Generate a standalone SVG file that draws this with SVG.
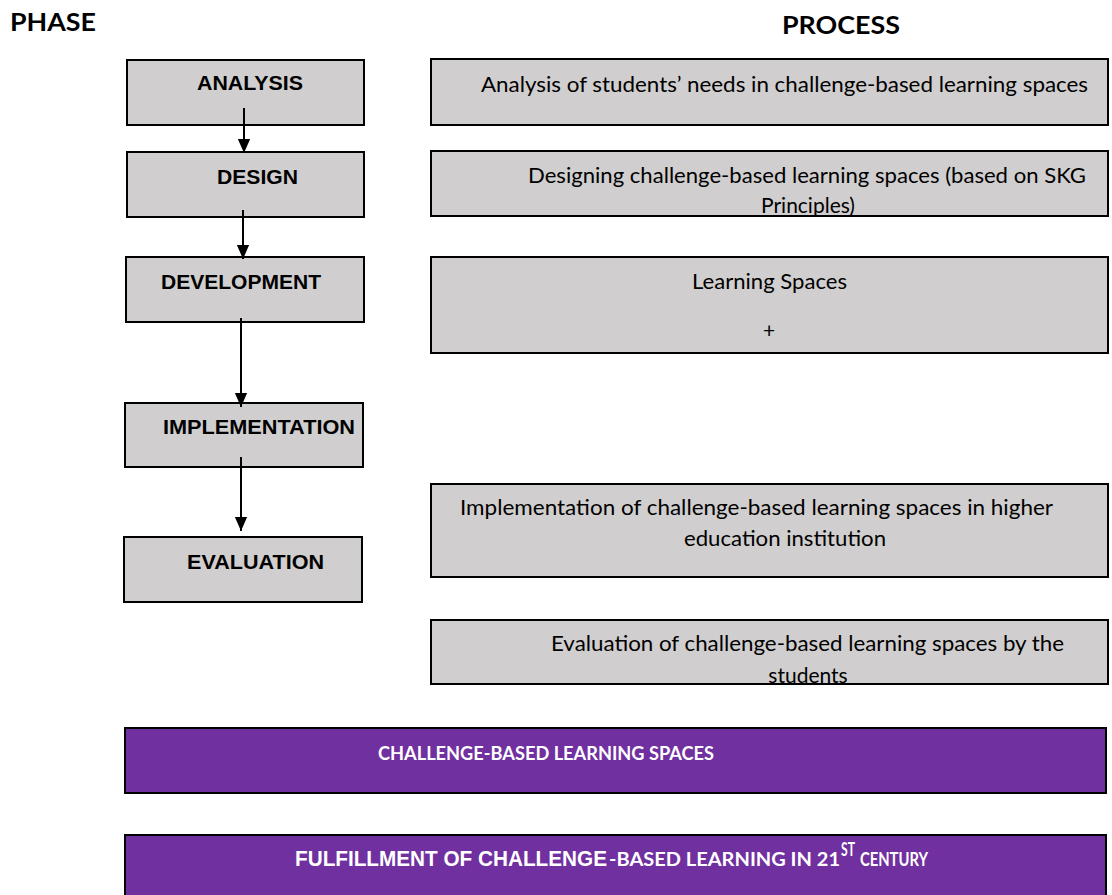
<svg xmlns="http://www.w3.org/2000/svg" width="1112" height="895" viewBox="0 0 1112 895">
<style>
.box{fill:#D0CECE;stroke:#000;stroke-width:2}
.pbox{fill:#7030A0;stroke:#000;stroke-width:2}
.ph{font-family:"Liberation Sans",Arial,sans-serif;font-weight:bold;font-size:20px;fill:#000}
.pr{font-family:Lato,"Open Sans",sans-serif;font-size:21px;fill:#000}
.hd{font-family:Lato,"Open Sans",sans-serif;font-weight:bold;font-size:25px;fill:#000}
.wt{font-family:Lato,"Open Sans",sans-serif;font-weight:bold;font-size:18px;fill:#fff}
.wa{font-family:"Liberation Sans",Arial,sans-serif;font-weight:bold;font-size:22px;fill:#fff}
.conn{stroke:#000;stroke-width:2;fill:none;marker-end:url(#ah)}
</style>
<defs>
<marker id="ah" markerWidth="14" markerHeight="16" refX="16" refY="7" orient="auto" markerUnits="userSpaceOnUse" viewBox="0 0 16 14">
<path d="M0,0 L16,7 L0,14 z" fill="#000"/>
</marker>
</defs>
<rect width="1112" height="895" fill="#fff"/>
<text class="hd" x="10" y="31" textLength="86" lengthAdjust="spacingAndGlyphs">PHASE</text>
<text class="hd" x="782" y="34" textLength="118" lengthAdjust="spacingAndGlyphs">PROCESS</text>

<g id="analysis"><rect class="box" x="127" y="60" width="237" height="65"/><text class="ph" x="197" y="90" textLength="106" lengthAdjust="spacingAndGlyphs">ANALYSIS</text></g>
<g id="design"><rect class="box" x="127" y="152" width="237" height="65"/><text class="ph" x="217" y="184" textLength="81" lengthAdjust="spacingAndGlyphs">DESIGN</text></g>
<g id="development"><rect class="box" x="126" y="257" width="238" height="65"/><text class="ph" x="161" y="289" textLength="160" lengthAdjust="spacingAndGlyphs">DEVELOPMENT</text></g>
<g id="implementation"><rect class="box" x="125" y="403" width="238" height="64"/><text class="ph" x="163" y="434" textLength="192" lengthAdjust="spacingAndGlyphs">IMPLEMENTATION</text></g>
<g id="evaluation"><rect class="box" x="124" y="537" width="238" height="65"/><text class="ph" x="187" y="569" textLength="137" lengthAdjust="spacingAndGlyphs">EVALUATION</text></g>

<g id="p-analysis"><rect class="box" x="431" y="59" width="677" height="66"/><text class="pr" x="481" y="92" textLength="607" lengthAdjust="spacingAndGlyphs">Analysis of students’ needs in challenge-based learning spaces</text></g>
<g id="p-design"><rect class="box" x="431" y="151" width="677" height="65"/><text class="pr" x="528" y="183" textLength="558" lengthAdjust="spacingAndGlyphs">Designing challenge-based learning spaces (based on SKG</text><text class="pr" x="808" y="213" text-anchor="middle">Principles)</text></g>
<g id="p-development"><rect class="box" x="431" y="257" width="677" height="96"/><text class="pr" x="692" y="289" textLength="155" lengthAdjust="spacingAndGlyphs">Learning Spaces</text><text class="pr" x="769" y="338" text-anchor="middle">+</text></g>
<g id="p-implementation"><rect class="box" x="431" y="484" width="677" height="93"/><text class="pr" x="460" y="515" textLength="593" lengthAdjust="spacingAndGlyphs">Implementation of challenge-based learning spaces in higher</text><text class="pr" x="684" y="546" textLength="202" lengthAdjust="spacingAndGlyphs">education institution</text></g>
<g id="p-evaluation"><rect class="box" x="431" y="620" width="677" height="64"/><text class="pr" x="551" y="651" textLength="513" lengthAdjust="spacingAndGlyphs">Evaluation of challenge-based learning spaces by the</text><text class="pr" x="808" y="683" text-anchor="middle">students</text></g>

<g id="cbls"><rect class="pbox" x="125" y="728" width="981" height="65"/><text class="wt" x="378" y="760" textLength="336" lengthAdjust="spacingAndGlyphs">CHALLENGE-BASED LEARNING SPACES</text></g>
<g id="fulfillment"><rect class="pbox" x="125" y="835" width="981" height="62"/>
<text class="wa" x="295" y="866" textLength="312" lengthAdjust="spacingAndGlyphs">FULFILLMENT OF CHALLENGE</text>
<text class="wt" x="609" y="866" font-size="19" textLength="231" lengthAdjust="spacingAndGlyphs">-BASED LEARNING IN 21</text>
<text class="wt" x="841" y="856" font-size="11" textLength="14" lengthAdjust="spacingAndGlyphs">ST</text>
<text class="wt" x="860" y="866" font-size="19" textLength="68" lengthAdjust="spacingAndGlyphs">CENTURY</text>
</g>

<g id="connectors">
<line class="conn" x1="244" y1="108" x2="244" y2="153"/>
<line class="conn" x1="243" y1="210" x2="243" y2="259"/>
<line class="conn" x1="241" y1="318" x2="241" y2="407"/>
<line class="conn" x1="241" y1="457" x2="241" y2="531"/>
</g>
</svg>
